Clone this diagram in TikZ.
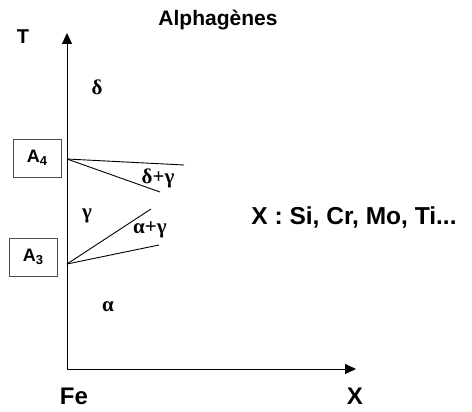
\documentclass[tikz,border=0pt]{standalone}
\usepackage{fontspec}
\setmainfont{Liberation Sans}
\newfontfamily\greekf{Liberation Serif}
\usetikzlibrary{arrows.meta}
\begin{document}
\begin{tikzpicture}[x=1pt,y=-1pt,
  lbl/.style={font=\bfseries\fontsize{24}{26}\selectfont, inner sep=0pt},
  grk/.style={font=\greekf\bfseries\fontsize{21}{23}\selectfont, inner sep=0pt},
  tbox/.style={draw=black!70, line width=0.8pt, minimum width=48pt, minimum height=38pt, font=\bfseries\fontsize{18}{20}\selectfont},
  ax/.style={line width=1pt, -{Triangle[length=11pt,width=10pt]}},
  ln/.style={line width=0.9pt}]
\useasboundingbox (0,0) rectangle (472,412);
\coordinate (O) at (67,369);
\coordinate (Ttip) at (67,33);
\coordinate (Xtip) at (356,369);
\draw[ax] (O) -- (Ttip);
\draw[ax] (O) -- (Xtip);
\node[lbl, font=\bfseries\fontsize{20}{22}\selectfont] (T) at (23,37) {T};
\node[lbl, font=\bfseries\fontsize{21}{23}\selectfont] (title) at (218,20) {Alphagènes};
\node[lbl] (Fe) at (74,396) {Fe};
\node[lbl] (X) at (355,396) {X};
\node[lbl, font=\bfseries\fontsize{24.5}{26}\selectfont] (els) at (354,218) {X : Si, Cr, Mo, Ti...};
\node[tbox] (A4) at (37,158) {A\raisebox{-0.3ex}{\fontsize{13}{14}\selectfont 4}};
\node[tbox] (A3) at (33,257) {A\raisebox{-0.3ex}{\fontsize{13}{14}\selectfont 3}};
\coordinate (p4) at (67,159);
\coordinate (p3) at (67,264);
\coordinate (a) at (184,165);
\coordinate (b) at (160,192);
\coordinate (c) at (151,209);
\coordinate (d) at (159,245);
\draw[ln] (p4) -- (a);
\draw[ln] (p4) -- (b);
\draw[ln] (p3) -- (c);
\draw[ln] (p3) -- (d);
\node[grk] (delta) at (97,87) {δ};
\node[grk] (dg) at (158,178) {δ+γ};
\node[grk] (gam) at (87,216) {γ};
\node[grk] (ag) at (150,230) {α+γ};
\node[grk] (alpha) at (108,307) {α};
\end{tikzpicture}
\end{document}
